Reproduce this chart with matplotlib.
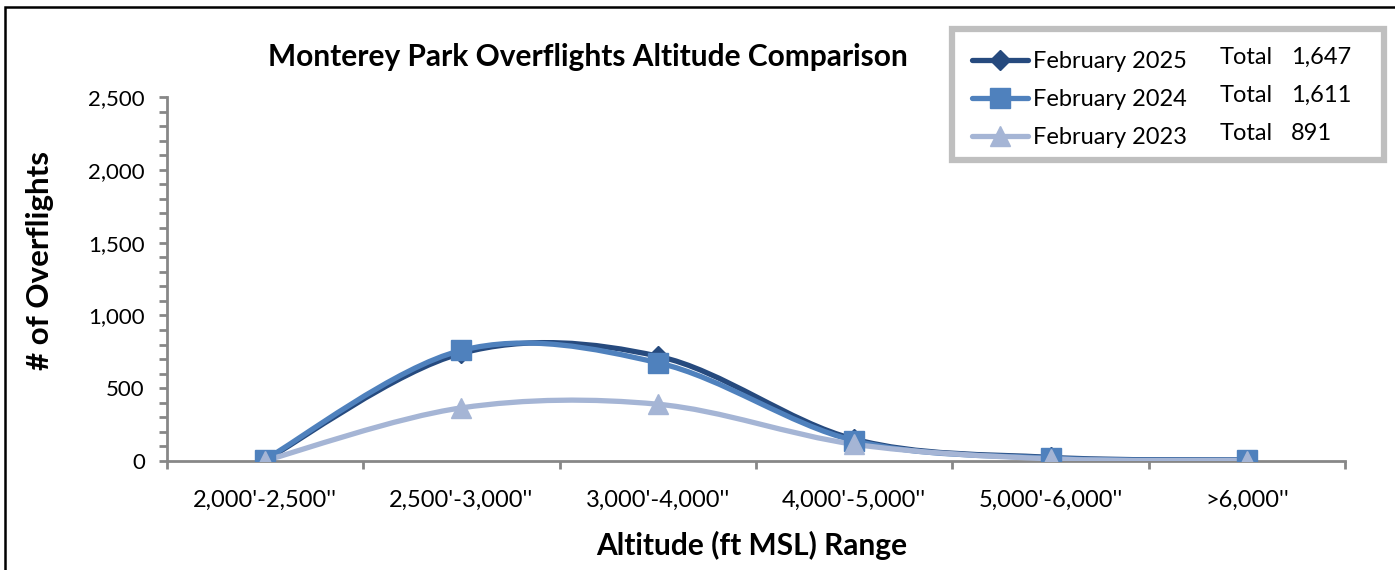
import matplotlib
matplotlib.use("Agg")
import matplotlib.pyplot as plt
from matplotlib.path import Path
from matplotlib.patches import PathPatch, Rectangle
from matplotlib.lines import Line2D
from matplotlib.ticker import MultipleLocator, FuncFormatter

plt.rcParams['font.family'] = ['Lato', 'DejaVu Sans']

categories = ["2,000'-2,500''", "2,500'-3,000''", "3,000'-4,000''",
              "4,000'-5,000''", "5,000'-6,000''", ">6,000''"]
feb_2025 = [5, 740, 720, 150, 25, 7]
feb_2024 = [10, 760, 675, 140, 20, 6]
feb_2023 = [3, 365, 390, 115, 15, 3]
series_names = ["February 2025", "February 2024", "February 2023"]
totals = ["1,647", "1,611", "891"]

colors = ["#264a7e", "#4f81bd", "#a5b5d5"]
markers = ["D", "s", "^"]
msizes = [10, 14, 14]

W, H = 1395, 570


def fx(px):
    return px / W


def fy(py):
    return 1 - py / H


def smooth_path(xs, ys):
    # excel-like bezier smoothing through the points
    n = len(xs)
    verts = [(xs[0], ys[0])]
    codes = [Path.MOVETO]
    for i in range(n - 1):
        a = i - 1 if i > 0 else i
        b = i + 2 if i + 2 < n else i + 1
        c1 = (xs[i] + (xs[i + 1] - xs[a]) / 6, ys[i] + (ys[i + 1] - ys[a]) / 6)
        c2 = (xs[i + 1] - (xs[b] - xs[i]) / 6, ys[i + 1] - (ys[b] - ys[i]) / 6)
        verts += [c1, c2, (xs[i + 1], ys[i + 1])]
        codes += [Path.CURVE4] * 3
    return Path(verts, codes)


fig = plt.figure(figsize=(W / 100, H / 100), dpi=100)
ax = fig.add_axes([fx(167), fy(461), fx(1345) - fx(167), fy(97) - fy(461)])

x = list(range(len(categories)))
for vals, c, m, ms in zip([feb_2025, feb_2024, feb_2023], colors, markers, msizes):
    ax.add_patch(PathPatch(smooth_path(x, vals), facecolor="none", edgecolor=c,
                           lw=3.8, capstyle="round", zorder=3))
    ax.plot(x, vals, ls="none", marker=m, ms=ms, color=c, mec=c, zorder=4)

ax.set_xlim(-0.5, len(categories) - 0.5)
ax.set_ylim(0, 2500)
ax.set_xticks(x)
ax.set_xticklabels(categories, fontsize=17)
ax.set_xticks([i - 0.5 for i in range(len(categories) + 1)], minor=True)
ax.tick_params(axis="x", which="major", length=0, pad=21)
ax.tick_params(axis="x", which="minor", length=6, width=2, color="#878787", direction="out")
ax.yaxis.set_major_locator(MultipleLocator(500))
ax.yaxis.set_minor_locator(MultipleLocator(100))
ax.yaxis.set_major_formatter(FuncFormatter(lambda v, p: f"{int(v):,}"))
ax.tick_params(axis="y", which="both", length=6, width=2, color="#878787", labelsize=16, pad=10)
for s in ["top", "right"]:
    ax.spines[s].set_visible(False)
for s in ["left", "bottom"]:
    ax.spines[s].set_color("#878787")
    ax.spines[s].set_linewidth(2)
ax.set_facecolor("none")

fig.text(fx(588), fy(57), "Monterey Park Overflights Altitude Comparison",
         ha="center", va="center", fontsize=21.5, fontweight="bold")
fig.text(fx(40), fy(261), "# of Overflights", rotation=90, ha="center", va="center",
         fontsize=22.5, fontweight="bold")
fig.text(fx(752), fy(545), "Altitude (ft MSL) Range", ha="center", va="center",
         fontsize=21.5, fontweight="bold")

# outer frame
fig.add_artist(Rectangle((fx(5), fy(600)), fx(1500), fy(7) - fy(600), transform=fig.transFigure,
                         facecolor="none", edgecolor="black", lw=1.8))

# legend box
fig.add_artist(Rectangle((fx(952), fy(160)), fx(1384) - fx(952), fy(29) - fy(160),
                         transform=fig.transFigure, facecolor="white", edgecolor="#bfbfbf", lw=4.5))
rows = [60, 98, 136]
for name, tot, c, m, ms, ry in zip(series_names, totals, colors, markers, msizes, rows):
    fig.add_artist(Line2D([fx(972), fx(1028)], [fy(ry), fy(ry)], transform=fig.transFigure,
                          color=c, lw=3.8, solid_capstyle="round"))
    fig.add_artist(Line2D([fx(1000)], [fy(ry)], transform=fig.transFigure, ls="none",
                          marker=m, ms=ms, color=c))
    fig.text(fx(1033), fy(ry + 1), name, ha="left", va="center", fontsize=17)
    fig.text(fx(1220), fy(ry - 3), "Total", ha="left", va="center", fontsize=17)
    fig.text(fx(1291), fy(ry - 3), tot, ha="left", va="center", fontsize=17)

fig.savefig("out.png", dpi=100)
